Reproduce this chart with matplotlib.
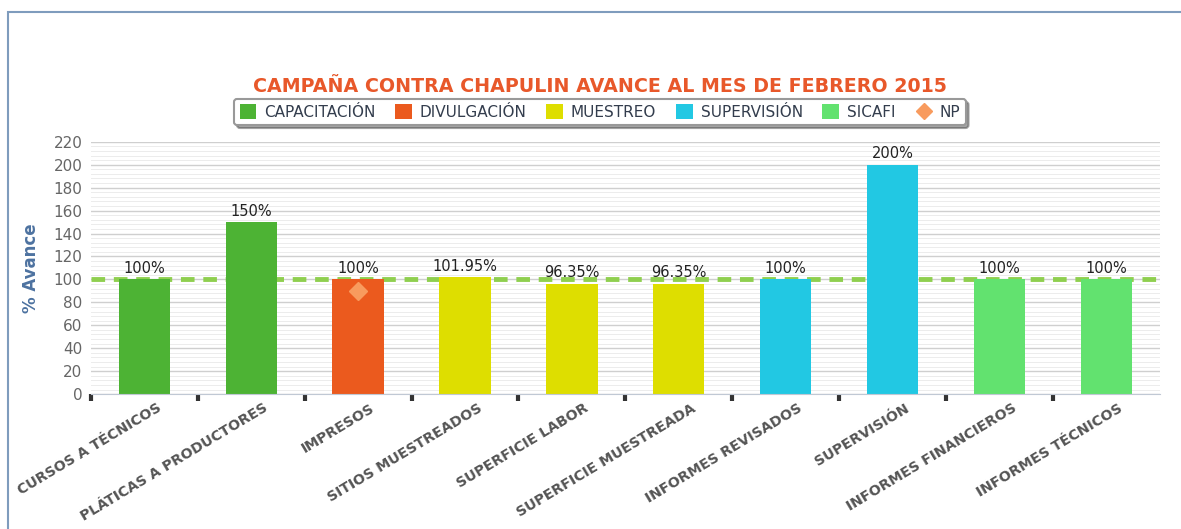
#! /usr/bin/env python3

import numpy as np
import matplotlib
matplotlib.use('agg')
import matplotlib.pyplot as plt
import matplotlib.transforms as mtransforms
from matplotlib.patches import Rectangle, Patch
from matplotlib.lines import Line2D

# Data:
categories = ["CURSOS A TÉCNICOS", "PLÁTICAS A PRODUCTORES", "IMPRESOS",
			  "SITIOS MUESTREADOS", "SUPERFICIE LABOR", "SUPERFICIE MUESTREADA",
			  "INFORMES REVISADOS", "SUPERVISIÓN", "INFORMES FINANCIEROS",
			  "INFORMES TÉCNICOS"]
values = [100, 150, 100, 101.95, 96.35, 96.35, 100, 200, 100, 100]
value_labels = ["100%", "150%", "100%", "101.95%", "96.35%", "96.35%",
				"100%", "200%", "100%", "100%"]
groups = ["CAPACITACIÓN", "CAPACITACIÓN", "DIVULGACIÓN", "MUESTREO", "MUESTREO",
		  "MUESTREO", "SUPERVISIÓN", "SUPERVISIÓN", "SICAFI", "SICAFI"]
group_names = ["CAPACITACIÓN", "DIVULGACIÓN", "MUESTREO", "SUPERVISIÓN", "SICAFI"]
np_category = "IMPRESOS"
np_value = 90
goal = 100

group_colors = {"CAPACITACIÓN": "#4db334", "DIVULGACIÓN": "#eb5a1e",
				"MUESTREO": "#dede00", "SUPERVISIÓN": "#22c8e3", "SICAFI": "#62e26f"}
np_color = "#f89b5e"
title_color = "#e8582a"

fig = plt.figure(figsize=(11.81, 5.29), dpi=100)
# outer frame
fig.patches.append(Rectangle((0.0068, -0.1), 1.2, 0.1 + 0.977, transform=fig.transFigure,
							 fill=False, edgecolor="#7f9cbd", linewidth=1.5))

ax = fig.add_axes([0.077, 0.255, 0.905, 0.477])
x = np.arange(len(categories))
ax.set_xlim(-0.5, len(categories) - 0.5)
ax.set_ylim(0, 220)

# grid
ax.set_yticks(np.arange(0, 221, 20))
ax.set_yticks(np.arange(0, 221, 4), minor=True)
ax.grid(axis='y', which='major', color='#cfcfcf', linewidth=1.0, zorder=0)
ax.grid(axis='y', which='minor', color='#ececec', linewidth=0.7, zorder=0)
ax.set_axisbelow(True)

ax.axhline(goal, color='#8fcf4f', linestyle=(0, (2.8, 1.8)), linewidth=3.5, zorder=1)

colors = [group_colors[g] for g in groups]
ax.bar(x, values, width=0.48, color=colors, zorder=2)
for xi, v, lab in zip(x, values, value_labels):
	ax.text(xi, v + 3, lab, ha='center', va='bottom', fontsize=10.5, color='#222222', zorder=3)

ax.plot([categories.index(np_category)], [np_value], marker='D', markersize=9,
		color=np_color, linestyle='none', zorder=4)

for s in ['top', 'right', 'left']:
	ax.spines[s].set_visible(False)
ax.spines['bottom'].set_color('#c0c8d4')
ax.tick_params(axis='y', which='both', length=0, labelsize=11, labelcolor='#666666', pad=6)

# category ticks at boundaries
ax.set_xticks(np.arange(-0.5, len(categories) - 1, 1.0))
ax.set_xticklabels([])
ax.tick_params(axis='x', which='major', length=5, width=3, color='#333333', direction='out')
ax.set_xticks(x, minor=True)
ax.set_xticklabels(categories, minor=True, rotation=31, ha='right', rotation_mode='anchor',
				   fontsize=10.2, fontweight='bold', color='#555555')
ax.tick_params(axis='x', which='minor', length=0, pad=5)
shift = mtransforms.ScaledTranslation(12 / 100, 0, fig.dpi_scale_trans)
for lbl in ax.get_xticklabels(minor=True):
	lbl.set_transform(lbl.get_transform() + shift)

ax.set_ylabel("% Avance", fontsize=12, color='#4d72a0', fontweight='bold', labelpad=10)

fig.text(0.508, 0.837, "CAMPAÑA CONTRA CHAPULIN AVANCE AL MES DE FEBRERO 2015",
		 ha='center', va='center', fontsize=13.7, fontweight='bold', color=title_color)

handles = [Patch(facecolor=group_colors[g], edgecolor='none') for g in group_names]
handles.append(Line2D([], [], marker='D', color=np_color, linestyle='none', markersize=8))
leg = fig.legend(handles, group_names + ["NP"], loc='center', bbox_to_anchor=(0.508, 0.788),
				 ncol=6, frameon=True, fancybox=True, shadow=True, fontsize=11,
				 handlelength=1.1, handleheight=1.1, handletextpad=0.5, columnspacing=1.3,
				 borderpad=0.35, labelcolor='#333d4d')
leg.get_frame().set_edgecolor('#999999')
leg.get_frame().set_linewidth(1.5)

fig.savefig("out.png", dpi=100)
